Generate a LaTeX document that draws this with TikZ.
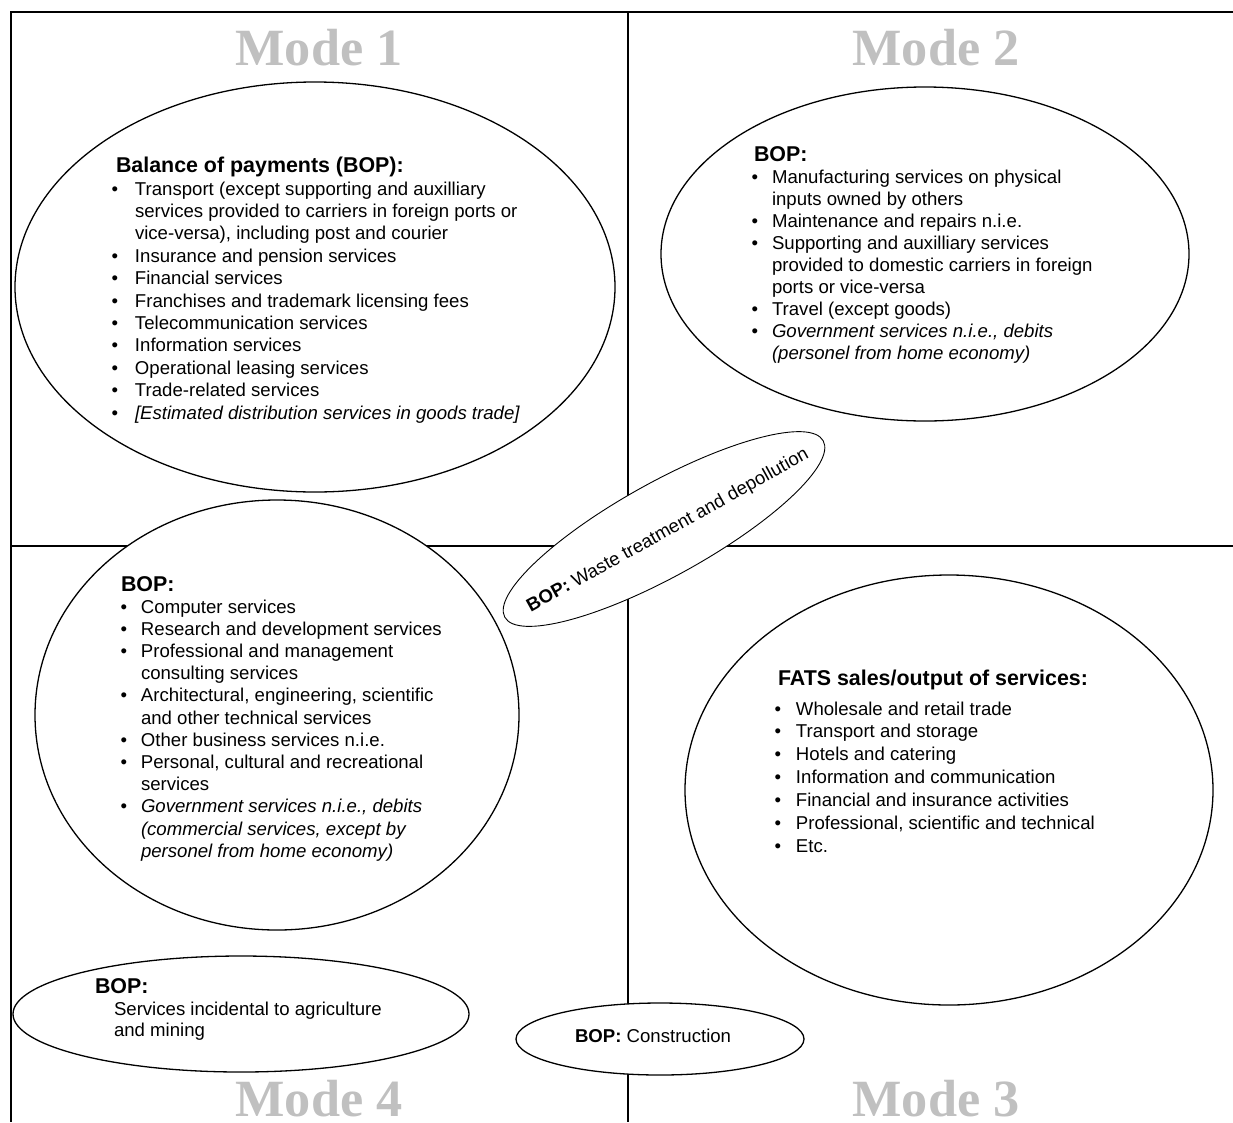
\documentclass[tikz,border=0pt]{standalone}
\usepackage{fontspec}
\setmainfont{Liberation Sans}
\newfontfamily\modefont{Liberation Serif}
\usetikzlibrary{shapes.geometric}
\definecolor{modegray}{HTML}{C0C0C0}
\newcommand{\blk}[2]{\begin{tabular}[t]{@{}p{#1}@{}l@{}}#2\end{tabular}}
\tikzset{
  frameline/.style={line width=1.7pt},
  oval/.style={ellipse, draw, fill=white, line width=1.3pt, inner sep=0pt, outer sep=0pt},
  thinoval/.style={oval, line width=0.9pt},
  head/.style={inner sep=0pt, outer sep=0pt, anchor=base west, font=\fontsize{21.4}{24}\selectfont\bfseries},
  txt/.style={inner sep=0pt, outer sep=0pt, anchor=base west},
  modelbl/.style={inner sep=0pt, anchor=base, text=modegray, font=\modefont\fontsize{52.3}{60}\selectfont\bfseries},
}
\begin{document}
\begin{tikzpicture}[x=1pt,y=-1pt]
\useasboundingbox (0,0) rectangle (1233,1122);
% frame
\coordinate (tl) at (11,12);
\coordinate (tr) at (1233,12);
\coordinate (bl) at (11,1122);
\coordinate (vt) at (628,12);
\coordinate (vb) at (628,1122);
\coordinate (hl) at (11,546);
\coordinate (hr) at (1233,546);
\draw[frameline] (tr) -- (tl) -- (bl);
\draw[frameline] (vt) -- (vb);
\draw[frameline] (hl) -- (hr);
% mode labels
\node[modelbl] (m1) at (319,65) {Mode 1};
\node[modelbl] (m2) at (936,65) {Mode 2};
\node[modelbl] (m4) at (319,1116) {Mode 4};
\node[modelbl] (m3) at (936,1116) {Mode 3};
% ellipses
\node[oval, minimum width=600pt, minimum height=410pt] (e1) at (315,287) {};
\node[oval, minimum width=528pt, minimum height=334pt] (e2) at (925,254) {};
\node[oval, minimum width=484pt, minimum height=430pt] (e3) at (277,715) {};
\node[oval, minimum width=528pt, minimum height=430pt] (e4) at (949,790) {};
\node[oval, minimum width=456pt, minimum height=116pt] (e5) at (241,1014) {};
\node[oval, minimum width=288pt, minimum height=72pt] (e6) at (660,1039) {};
\node[thinoval, minimum width=364pt, minimum height=94pt, rotate=29] (e7) at (664,529) {};
% Mode 1 text
\node[head] (h1) at (116,172) {Balance of payments (BOP):};
\node[txt, font=\fontsize{18.6}{22.4}\selectfont] (l1) at (111.5,195) {\blk{23.5pt}{%
\textbullet & Transport (except supporting and auxilliary\\
 & services provided to carriers in foreign ports or\\
 & vice-versa), including post and courier\\
\textbullet & Insurance and pension services\\
\textbullet & Financial services\\
\textbullet & Franchises and trademark licensing fees\\
\textbullet & Telecommunication services\\
\textbullet & Information services\\
\textbullet & Operational leasing services\\
\textbullet & Trade-related services\\
\textbullet & \itshape [Estimated distribution services in goods trade]}};
% Mode 2 text
\node[head] (h2) at (754,161) {BOP:};
\node[txt, font=\fontsize{18.6}{22.0}\selectfont] (l2) at (751.5,183) {\blk{20.5pt}{%
\textbullet & Manufacturing services on physical\\
 & inputs owned by others\\
\textbullet & Maintenance and repairs n.i.e.\\
\textbullet & Supporting and auxilliary services\\
 & provided to domestic carriers in foreign\\
 & ports or vice-versa\\
\textbullet & Travel (except goods)\\
\textbullet & \itshape Government services n.i.e., debits\\
 & \itshape (personel from home economy)}};
% Mode 4 big ellipse text
\node[head] (h3) at (121,591) {BOP:};
\node[txt, font=\fontsize{18.6}{22.2}\selectfont] (l3) at (120.5,613) {\blk{20.5pt}{%
\textbullet & Computer services\\
\textbullet & Research and development services\\
\textbullet & Professional and management\\
 & consulting services\\
\textbullet & Architectural, engineering, scientific\\
 & and other technical services\\
\textbullet & Other business services n.i.e.\\
\textbullet & Personal, cultural and recreational\\
 & services\\
\textbullet & \itshape Government services n.i.e., debits\\
 & \itshape (commercial services, except by\\
 & \itshape personel from home economy)}};
% FATS text
\node[head] (h4) at (778,685) {FATS sales/output of services:};
\node[txt, font=\fontsize{18.6}{22.9}\selectfont] (l4) at (774.5,715) {\blk{21.5pt}{%
\textbullet & Wholesale and retail trade\\
\textbullet & Transport and storage\\
\textbullet & Hotels and catering\\
\textbullet & Information and communication\\
\textbullet & Financial and insurance activities\\
\textbullet & Professional, scientific and technical\\
\textbullet & Etc.}};
% agriculture
\node[head] (h5) at (95,993) {BOP:};
\node[txt, font=\fontsize{18.6}{21}\selectfont] (l5) at (114,1015) {\begin{tabular}[t]{@{}l@{}}Services incidental to agriculture\\ and mining\end{tabular}};
% construction
\node[txt, font=\fontsize{18.6}{22}\selectfont] (l6) at (575,1042) {\textbf{BOP:} Construction};
% waste
\node[inner sep=0pt, rotate=29, font=\fontsize{18.6}{22}\selectfont] (l7) at (668,531) {\textbf{BOP:} Waste treatment and depollution};
\end{tikzpicture}
\end{document}
